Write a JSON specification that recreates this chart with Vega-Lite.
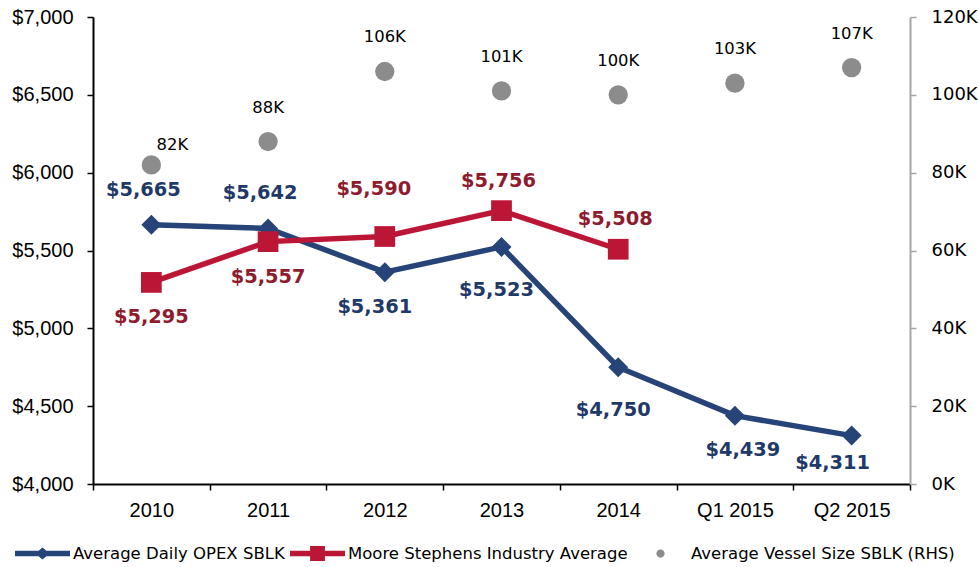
{
  "$schema": "https://vega.github.io/schema/vega-lite/v6.json",
  "width": 817,
  "height": 467,
  "autosize": {"type": "none"},
  "padding": {"left": 93, "top": 17, "right": 69, "bottom": 83},
  "background": "white",
  "data": {
    "values": [
      {"cat": "2010", "series": "Average Daily OPEX SBLK", "value": 5665},
      {"cat": "2011", "series": "Average Daily OPEX SBLK", "value": 5642},
      {"cat": "2012", "series": "Average Daily OPEX SBLK", "value": 5361},
      {"cat": "2013", "series": "Average Daily OPEX SBLK", "value": 5523},
      {"cat": "2014", "series": "Average Daily OPEX SBLK", "value": 4750},
      {"cat": "Q1 2015", "series": "Average Daily OPEX SBLK", "value": 4439},
      {"cat": "Q2 2015", "series": "Average Daily OPEX SBLK", "value": 4311},
      {"cat": "2010", "series": "Moore Stephens Industry Average", "value": 5295},
      {"cat": "2011", "series": "Moore Stephens Industry Average", "value": 5557},
      {"cat": "2012", "series": "Moore Stephens Industry Average", "value": 5590},
      {"cat": "2013", "series": "Moore Stephens Industry Average", "value": 5756},
      {"cat": "2014", "series": "Moore Stephens Industry Average", "value": 5508},
      {"cat": "2010", "series": "Average Vessel Size SBLK (RHS)", "value": 82},
      {"cat": "2011", "series": "Average Vessel Size SBLK (RHS)", "value": 88},
      {"cat": "2012", "series": "Average Vessel Size SBLK (RHS)", "value": 106},
      {"cat": "2013", "series": "Average Vessel Size SBLK (RHS)", "value": 101},
      {"cat": "2014", "series": "Average Vessel Size SBLK (RHS)", "value": 100},
      {"cat": "Q1 2015", "series": "Average Vessel Size SBLK (RHS)", "value": 103},
      {"cat": "Q2 2015", "series": "Average Vessel Size SBLK (RHS)", "value": 107}
    ]
  },
  "encoding": {
    "x": {
      "field": "cat",
      "type": "nominal",
      "sort": ["2010", "2011", "2012", "2013", "2014", "Q1 2015", "Q2 2015"],
      "bandPosition": 0.5,
      "scale": {"type": "band", "paddingInner": 0, "paddingOuter": 0},
      "axis": {
        "title": null,
        "labelAngle": 0,
        "tickBand": "extent",
        "labelFont": "Liberation Sans",
        "labelFontSize": 20,
        "labelColor": "#000000",
        "labelPadding": 10,
        "domainColor": "#000000",
        "domainWidth": 2,
        "tickColor": "#000000",
        "tickWidth": 1.5,
        "tickSize": 6,
        "grid": false
      }
    }
  },
  "layer": [
    {
      "encoding": {
        "y": {
          "field": "value",
          "type": "quantitative",
          "scale": {"domain": [4000, 7000], "nice": false, "zero": false},
          "axis": {
            "title": null,
            "orient": "left",
            "values": [4000, 4500, 5000, 5500, 6000, 6500, 7000],
            "format": "$,.0f",
            "labelFont": "Liberation Sans",
            "labelFontSize": 20,
            "labelColor": "#000000",
            "labelPadding": 14,
            "domainColor": "#000000",
            "domainWidth": 2,
            "tickColor": "#000000",
            "tickWidth": 1.5,
            "tickSize": 6,
            "grid": false
          }
        }
      },
      "layer": [
        {
          "transform": [{"filter": {"field": "series", "oneOf": ["Average Daily OPEX SBLK", "Moore Stephens Industry Average"]}}],
          "mark": {"type": "line", "strokeWidth": 5.5},
          "encoding": {
            "color": {
              "field": "series",
              "type": "nominal",
              "scale": {
                "domain": ["Average Daily OPEX SBLK", "Moore Stephens Industry Average", "Average Vessel Size SBLK (RHS)"],
                "range": ["#264478", "#bc1637", "#8c8c8c"]
              },
              "legend": {
                "title": null,
                "orient": "none",
                "legendX": -78,
                "legendY": 509,
                "direction": "horizontal",
                "symbolSize": 3025,
                "symbolStrokeWidth": 0,
                "labelFont": "DejaVu Sans",
                "labelFontSize": 16.5,
                "labelColor": "#000000",
                "labelOffset": 3,
                "labelLimit": 400,
                "columnPadding": 5,
                "encode": {
                  "symbols": {
                    "update": {
                      "shape": {"signal": "datum.value === 'Average Daily OPEX SBLK' ? 'M-1,-0.1L1,-0.1L1,0.1L-1,0.1Z M0,-0.22L0.26,0L0,0.22L-0.26,0Z' : datum.value === 'Moore Stephens Industry Average' ? 'M-1,-0.1L1,-0.1L1,0.1L-1,0.1Z M-0.27,-0.27L0.27,-0.27L0.27,0.27L-0.27,0.27Z' : 'M-0.15,0A0.15,0.15 0 1,0 0.15,0A0.15,0.15 0 1,0 -0.15,0Z'"},
                      "fill": {"signal": "datum.value === 'Average Daily OPEX SBLK' ? '#264478' : datum.value === 'Moore Stephens Industry Average' ? '#bc1637' : '#8c8c8c'"},
                      "stroke": {"value": "transparent"},
                      "strokeWidth": {"value": 0},
                      "opacity": {"value": 1},
                      "size": {"value": 3025}
                    }
                  }
                }
              }
            }
          }
        },
        {
          "transform": [{"filter": {"field": "series", "equal": "Average Daily OPEX SBLK"}}],
          "mark": {"type": "point", "shape": "diamond", "filled": true, "size": 400, "color": "#264478", "opacity": 1}
        },
        {
          "transform": [{"filter": {"field": "series", "equal": "Moore Stephens Industry Average"}}],
          "mark": {"type": "point", "shape": "square", "filled": true, "size": 430, "color": "#bc1637", "opacity": 1}
        },
        {
          "transform": [{"filter": {"and": [{"field": "series", "equal": "Average Daily OPEX SBLK"}, {"field": "cat", "oneOf": ["2010", "2011"]}]}}],
          "mark": {"type": "text", "font": "DejaVu Sans", "fontWeight": "bold", "fontSize": 19.4, "color": "#1f3a68", "dx": -8, "dy": -35},
          "encoding": {"text": {"field": "value", "type": "quantitative", "format": "$,.0f"}}
        },
        {
          "transform": [{"filter": {"and": [{"field": "series", "equal": "Average Daily OPEX SBLK"}, {"field": "cat", "oneOf": ["2012"]}]}}],
          "mark": {"type": "text", "font": "DejaVu Sans", "fontWeight": "bold", "fontSize": 19.4, "color": "#1f3a68", "dx": -10, "dy": 35},
          "encoding": {"text": {"field": "value", "type": "quantitative", "format": "$,.0f"}}
        },
        {
          "transform": [{"filter": {"and": [{"field": "series", "equal": "Average Daily OPEX SBLK"}, {"field": "cat", "oneOf": ["2013", "2014"]}]}}],
          "mark": {"type": "text", "font": "DejaVu Sans", "fontWeight": "bold", "fontSize": 19.4, "color": "#1f3a68", "dx": -5, "dy": 43},
          "encoding": {"text": {"field": "value", "type": "quantitative", "format": "$,.0f"}}
        },
        {
          "transform": [{"filter": {"and": [{"field": "series", "equal": "Average Daily OPEX SBLK"}, {"field": "cat", "oneOf": ["Q1 2015"]}]}}],
          "mark": {"type": "text", "font": "DejaVu Sans", "fontWeight": "bold", "fontSize": 19.4, "color": "#1f3a68", "dx": 8, "dy": 34},
          "encoding": {"text": {"field": "value", "type": "quantitative", "format": "$,.0f"}}
        },
        {
          "transform": [{"filter": {"and": [{"field": "series", "equal": "Average Daily OPEX SBLK"}, {"field": "cat", "oneOf": ["Q2 2015"]}]}}],
          "mark": {"type": "text", "font": "DejaVu Sans", "fontWeight": "bold", "fontSize": 19.4, "color": "#1f3a68", "dx": -19, "dy": 27},
          "encoding": {"text": {"field": "value", "type": "quantitative", "format": "$,.0f"}}
        },
        {
          "transform": [{"filter": {"and": [{"field": "series", "equal": "Moore Stephens Industry Average"}, {"field": "cat", "oneOf": ["2010", "2011"]}]}}],
          "mark": {"type": "text", "font": "DejaVu Sans", "fontWeight": "bold", "fontSize": 19.4, "color": "#8e1b2e", "dx": 0, "dy": 35},
          "encoding": {"text": {"field": "value", "type": "quantitative", "format": "$,.0f"}}
        },
        {
          "transform": [{"filter": {"and": [{"field": "series", "equal": "Moore Stephens Industry Average"}, {"field": "cat", "oneOf": ["2012"]}]}}],
          "mark": {"type": "text", "font": "DejaVu Sans", "fontWeight": "bold", "fontSize": 19.4, "color": "#8e1b2e", "dx": -11, "dy": -47},
          "encoding": {"text": {"field": "value", "type": "quantitative", "format": "$,.0f"}}
        },
        {
          "transform": [{"filter": {"and": [{"field": "series", "equal": "Moore Stephens Industry Average"}, {"field": "cat", "oneOf": ["2013", "2014"]}]}}],
          "mark": {"type": "text", "font": "DejaVu Sans", "fontWeight": "bold", "fontSize": 19.4, "color": "#8e1b2e", "dx": -3, "dy": -30},
          "encoding": {"text": {"field": "value", "type": "quantitative", "format": "$,.0f"}}
        }
      ]
    },
    {
      "transform": [{"filter": {"field": "series", "equal": "Average Vessel Size SBLK (RHS)"}}],
      "encoding": {
        "y": {
          "field": "value",
          "type": "quantitative",
          "scale": {"domain": [0, 120], "nice": false},
          "axis": {
            "title": null,
            "orient": "right",
            "values": [0, 20, 40, 60, 80, 100, 120],
            "labelExpr": "datum.value + 'K'",
            "labelFont": "DejaVu Sans",
            "labelFontSize": 18,
            "labelColor": "#000000",
            "labelPadding": 15,
            "domainColor": "#a6a6a6",
            "domainWidth": 2,
            "tickColor": "#a6a6a6",
            "tickWidth": 1.5,
            "tickSize": 6,
            "grid": false
          }
        }
      },
      "layer": [
        {
          "mark": {"type": "circle", "size": 373, "color": "#8c8c8c", "opacity": 1}
        },
        {
          "transform": [{"filter": {"field": "cat", "oneOf": ["2010"]}}],
          "mark": {"type": "text", "font": "DejaVu Sans", "fontSize": 16.4, "color": "#000000", "dx": 21, "dy": -20, "text": {"expr": "datum.value + 'K'"}}
        },
        {
          "transform": [{"filter": {"field": "cat", "oneOf": ["2011", "2012", "2013", "2014", "Q1 2015", "Q2 2015"]}}],
          "mark": {"type": "text", "font": "DejaVu Sans", "fontSize": 16.4, "color": "#000000", "dx": 0, "dy": -34, "text": {"expr": "datum.value + 'K'"}}
        }
      ]
    }
  ],
  "resolve": {"scale": {"y": "independent"}},
  "config": {
    "view": {"stroke": null},
    "axis": {"grid": false}
  }
}
